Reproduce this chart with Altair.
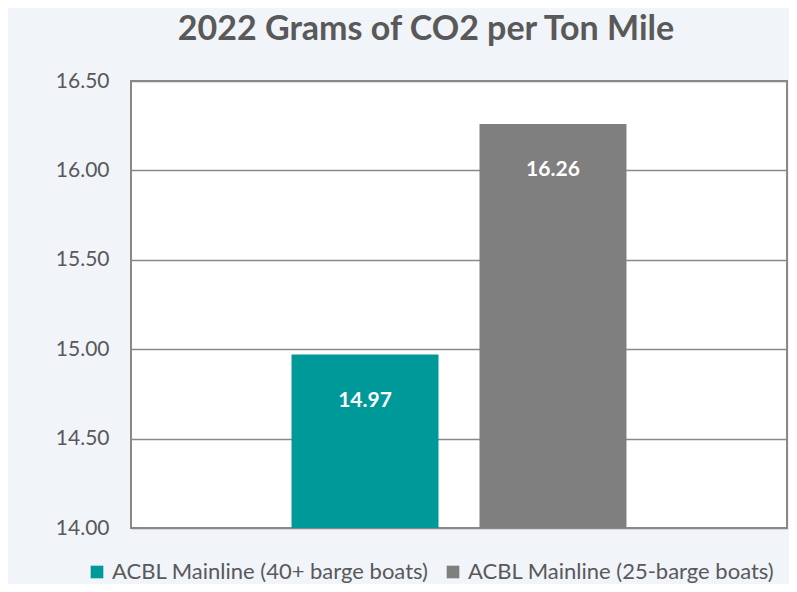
import altair as alt
import pandas as pd

series = ["ACBL Mainline (40+ barge boats)", "ACBL Mainline (25-barge boats)"]
values = [14.97, 16.26]
colors = ["#009999", "#7F7F7F"]
y_ticks = [14.0, 14.5, 15.0, 15.5, 16.0, 16.5]

df = pd.DataFrame({"series": series, "value": values, "label": [f"{v:.2f}" for v in values]})

FONT = "Lato"
TXT = "#595959"

x = alt.X("series:N", sort=series, axis=None,
          scale=alt.Scale(paddingInner=0.218, paddingOuter=0.854))
y_scale = alt.Scale(domain=[14, 16.5], nice=False, zero=False)

bars = alt.Chart(df).mark_bar().encode(
    x=x,
    y=alt.Y("value:Q", scale=y_scale,
            axis=alt.Axis(values=y_ticks, format=".2f", title=None, grid=True,
                          gridColor="#898989", gridWidth=1.5, domain=False, ticks=False,
                          labelFont=FONT, labelFontSize=21, labelColor=TXT, labelPadding=22)),
    y2=alt.datum(14),
    color=alt.Color("series:N", sort=series,
                    scale=alt.Scale(domain=series, range=colors),
                    legend=alt.Legend(title=None, orient="none", direction="horizontal",
                                      legendX=-45, legendY=480, symbolType="square",
                                      symbolSize=160, symbolStrokeWidth=0, symbolOpacity=1,
                                      labelFont=FONT, labelFontSize=22, labelColor=TXT,
                                      labelLimit=400, columnPadding=13, labelOffset=4)),
)

labels = alt.Chart(df).mark_text(color="white", font=FONT, fontSize=21, fontWeight="bold",
                                 dy=46).encode(
    x=x,
    y=alt.Y("value:Q", scale=y_scale),
    text="label:N",
)

chart = alt.layer(bars, labels).properties(
    width=656, height=447,
    autosize=alt.AutoSizeParams(type="none"),
    padding={"left": 123, "top": 73, "right": 2, "bottom": 56},
    background="#F1F4F9",
    title=alt.TitleParams("2022 Grams of CO2 per Ton Mile", font=FONT, fontSize=34,
                          fontWeight="bold", color=TXT, anchor="middle", offset=23, dx=-33),
).configure_view(stroke="#898989", strokeWidth=2, fill="white")

chart.save("out.html", embed_options={"renderer": "svg", "actions": False})
